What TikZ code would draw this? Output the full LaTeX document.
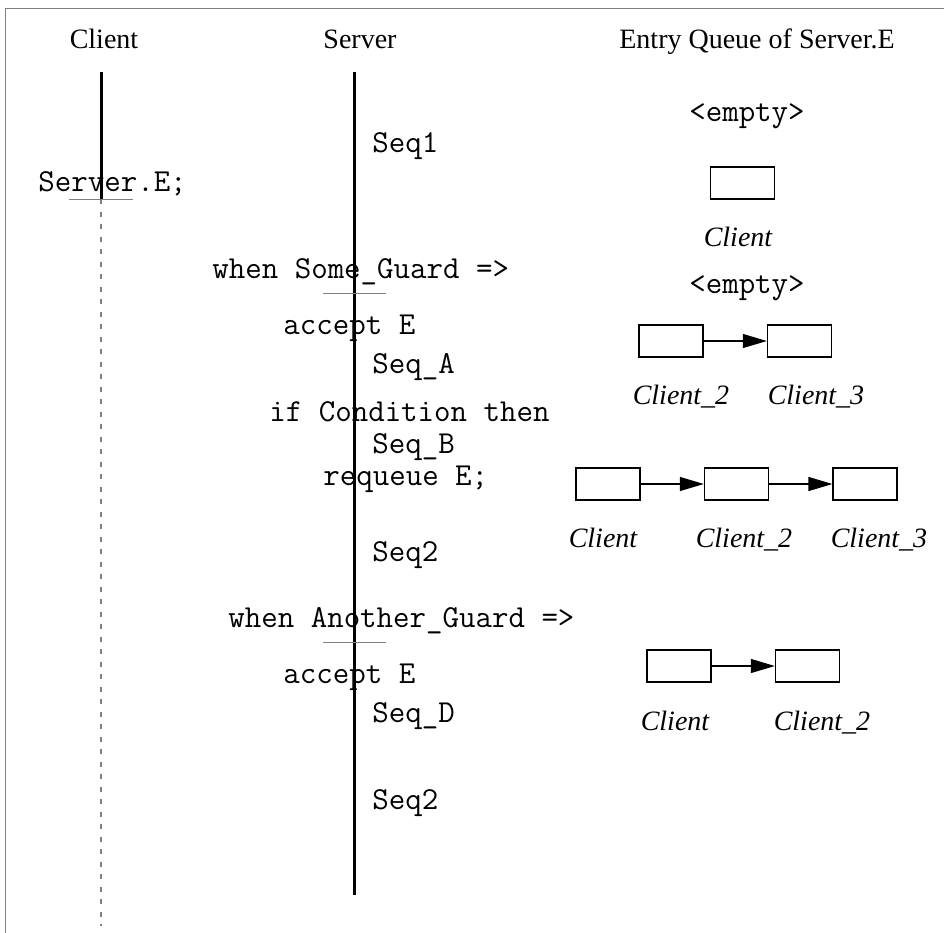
\documentclass[tikz,border=0pt]{standalone}
\usepackage{fontspec}
\setmainfont{Liberation Serif}
\setmonofont{Latin Modern Mono}
\usetikzlibrary{positioning,arrows.meta}

\begin{document}
\begin{tikzpicture}[x=0.5pt,y=-0.5pt,
  font=\fontsize{14}{16}\selectfont,
  head/.style={anchor=base,inner sep=0pt},
  code/.style={anchor=base west,inner sep=0pt,font=\fontsize{16}{18}\selectfont\ttfamily},
  who/.style={anchor=base,inner sep=0pt,font=\fontsize{14}{16}\selectfont\itshape},
  qbox/.style={draw,line width=0.8pt,minimum width=32pt,minimum height=16pt,inner sep=0pt},
  link/.style={line width=0.6pt,-{Triangle[length=12pt,width=7pt]}},
  life/.style={line width=1.5pt},
  wait/.style={gray,line width=0.6pt,dash pattern=on 2.5pt off 3.75pt},
  tick/.style={gray,line width=0.5pt},
  node distance=31.5pt]
  \useasboundingbox (0,0) rectangle (944,933);
  \draw[gray,line width=0.8pt] (5.5,933) -- (5.5,8.5) -- (944,8.5);

  \node[head] (hclient) at (104,48) {Client};
  \node[head] (hserver) at (360,48) {Server};
  \node[head] (hqueue) at (757,48) {Entry Queue of Server.E};

  \coordinate (ctop) at (101,72);
  \coordinate (ccall) at (101,199);
  \coordinate (cend) at (101,926);
  \coordinate (stop) at (354,72);
  \coordinate (send) at (354,895);
  \coordinate (guard1) at (354,293);
  \coordinate (guard2) at (354,642);

  \node[code] (call) at (38,191) {Server.E;};
  \node[code] (seq1) at (372,152) {Seq1};
  \node[code] (when1) at (212,278) {when Some\_Guard =>};
  \node[code] (acc1) at (283,334) {accept E};
  \node[code] (seqa) at (372,373) {Seq\_A};
  \node[code] (ifc) at (269,421) {if Condition then};
  \node[code] (seqb) at (372,453) {Seq\_B};
  \node[code] (req) at (323,485) {requeue E;};
  \node[code] (seq2a) at (372,561) {Seq2};
  \node[code] (when2) at (228,627) {when Another\_Guard =>};
  \node[code] (acc2) at (283,683) {accept E};
  \node[code] (seqd) at (372,722) {Seq\_D};
  \node[code] (seq2b) at (372,809) {Seq2};

  \draw[life] (ctop) -- (ccall);
  \draw[wait] (ccall) -- (cend);
  \draw[tick] ([xshift=-16pt]ccall) -- ([xshift=16pt]ccall);
  \draw[life] (stop) -- (send);
  \draw[tick] ([xshift=-15.5pt]guard1) -- ([xshift=16pt]guard1);
  \draw[tick] ([xshift=-15.5pt]guard2) -- ([xshift=16pt]guard2);

  \node[code,anchor=base] (empty1) at (747,121) {<empty>};
  \node[qbox] (q1) at (742.5,183) {};
  \node[who] (c1) at (738,246) {Client};

  \node[code,anchor=base] (empty2) at (747,293) {<empty>};
  \node[qbox] (q2a) at (671,341) {};
  \node[qbox,right=of q2a] (q2b) {};
  \draw[link] (q2a) -- (q2b);
  \node[who] (c2a) at (681,404) {Client\_2};
  \node[who] (c2b) at (816,404) {Client\_3};

  \node[qbox] (q3a) at (608,484) {};
  \node[qbox,right=of q3a] (q3b) {};
  \node[qbox,right=of q3b] (q3c) {};
  \draw[link] (q3a) -- (q3b);
  \draw[link] (q3b) -- (q3c);
  \node[who] (c3a) at (603,547) {Client};
  \node[who] (c3b) at (744,547) {Client\_2};
  \node[who] (c3c) at (879,547) {Client\_3};

  \node[qbox] (q4a) at (679,666) {};
  \node[qbox,right=of q4a] (q4b) {};
  \draw[link] (q4a) -- (q4b);
  \node[who] (c4a) at (675,730) {Client};
  \node[who] (c4b) at (822,730) {Client\_2};
\end{tikzpicture}
\end{document}
